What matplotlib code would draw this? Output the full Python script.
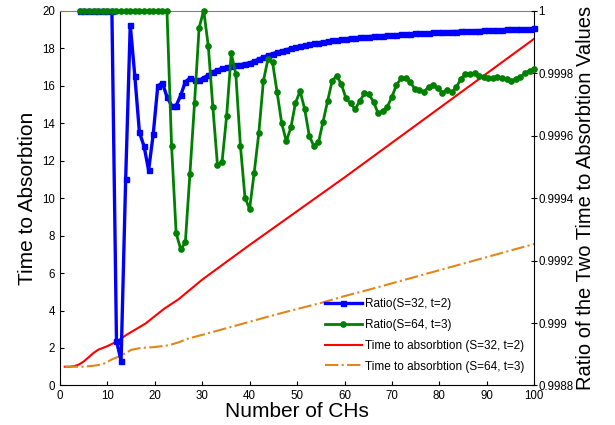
import numpy as np
import matplotlib
matplotlib.use('Agg')
import matplotlib.pyplot as plt

plt.rcParams['font.family'] = ['Liberation Sans', 'DejaVu Sans']

# number of CHs used for the two ratio curves
n_chs = np.arange(1, 101)

# ratio of the two time-to-absorption values (right axis)
ratio_s32 = [1.0, 1.0, 1.0, 1.0, 1.0, 1.0, 1.0, 1.0,
             0.998943, 0.998879, 0.999460, 0.999954, 0.999790, 0.999610, 0.999566, 0.999489,
             0.999604, 0.999759, 0.999769, 0.999724, 0.999696, 0.999696, 0.999729, 0.999772,
             0.999784, 0.999777, 0.999777, 0.999785, 0.999794, 0.999804, 0.999810, 0.999815,
             0.999819, 0.999822, 0.999825, 0.999827, 0.999830, 0.999833, 0.999838, 0.999845,
             0.999851, 0.999857, 0.999862, 0.999867, 0.999871, 0.999875, 0.999879, 0.999882,
             0.999886, 0.999890, 0.999892, 0.999895, 0.999897, 0.999900, 0.999902, 0.999905,
             0.999906, 0.999908, 0.999910, 0.999912, 0.999913, 0.999914, 0.999915, 0.999917,
             0.999918, 0.999919, 0.999920, 0.999921, 0.999923, 0.999923, 0.999924, 0.999925,
             0.999926, 0.999927, 0.999928, 0.999929, 0.999929, 0.999930, 0.999931, 0.999932,
             0.999932, 0.999933, 0.999933, 0.999934, 0.999935, 0.999935, 0.999936, 0.999936,
             0.999937, 0.999938, 0.999938, 0.999939, 0.999939, 0.999940, 0.999941, 0.999941,
             0.999942, 0.999942, 0.999942, 0.999943]

ratio_s64 = [1.0, 1.0, 1.0, 1.0, 1.0, 1.0, 1.0, 1.0, 1.0, 1.0,
             1.0, 1.0, 1.0, 1.0, 1.0, 1.0, 1.0, 1.0, 1.0, 1.0,
             0.999568, 0.999287, 0.999236, 0.999258, 0.999478, 0.999703, 0.999945, 1.0,
             0.999887, 0.999690, 0.999506, 0.999516, 0.999663, 0.999863, 0.999797, 0.999567,
             0.999401, 0.999365, 0.999481, 0.999607, 0.999774, 0.999845, 0.999834, 0.999738,
             0.999639, 0.999582, 0.999626, 0.999705, 0.999742, 0.999685, 0.999599, 0.999566,
             0.999578, 0.999644, 0.999711, 0.999776, 0.999791, 0.999764, 0.999719, 0.999703,
             0.999685, 0.999710, 0.999735, 0.999732, 0.999708, 0.999671, 0.999678, 0.999692,
             0.999724, 0.999762, 0.999783, 0.999785, 0.999772, 0.999748, 0.999746, 0.999740,
             0.999756, 0.999762, 0.999751, 0.999737, 0.999746, 0.999738, 0.999754, 0.999780,
             0.999796, 0.999797, 0.999799, 0.999791, 0.999788, 0.999783, 0.999785, 0.999786,
             0.999783, 0.999780, 0.999776, 0.999780, 0.999786, 0.999801, 0.999807, 0.999812]

# time to absorption (left axis)
abs_x32 = [1, 2, 3, 4, 5, 6, 7, 8, 9, 10, 12, 14, 16, 18, 20, 22, 25, 30,
           40, 50, 60, 70, 80, 90, 100]
abs_s32 = [1.0, 1.0, 1.03, 1.12, 1.28, 1.5, 1.72, 1.9, 2.0, 2.1, 2.35, 2.7, 3.0,
           3.3, 3.7, 4.1, 4.6, 5.65, 7.5, 9.3, 11.1, 12.95, 14.8, 16.65, 18.5]

abs_x64 = [1, 3, 5, 7, 9, 11, 13, 15, 17, 20, 23, 25, 27, 30, 35, 40, 45, 50,
           55, 60, 65, 70, 75, 80, 85, 90, 95, 100]
abs_s64 = [1.0, 1.0, 1.0, 1.05, 1.13, 1.4, 1.6, 1.9, 2.0, 2.05, 2.15, 2.3, 2.5,
           2.7, 3.05, 3.4, 3.75, 4.08, 4.4, 4.77, 5.1, 5.45, 5.8, 6.15, 6.5,
           6.85, 7.2, 7.55]

x_ticks = [0, 10, 20, 30, 40, 50, 60, 70, 80, 90, 100]
left_ticks = [0, 2, 4, 6, 8, 10, 12, 14, 16, 18, 20]
right_ticks = [0.9988, 0.999, 0.9992, 0.9994, 0.9996, 0.9998, 1.0]
right_labels = ['0.9988', '0.999', '0.9992', '0.9994', '0.9996', '0.9998', '1']

labels = ['Ratio(S=32, t=2)', 'Ratio(S=64, t=3)',
          'Time to absorbtion (S=32, t=2)', 'Time to absorbtion (S=64, t=3)']

fig = plt.figure(figsize=(6.15, 4.25), dpi=100)
rect = [0.0976, 0.093, 0.771, 0.882]
ax = fig.add_axes(rect)
ax2 = fig.add_axes(rect, frameon=False)  # own x scale, like the original plotyy

l3, = ax.plot(abs_x32, abs_s32, color='red', lw=1.5)
l4, = ax.plot(abs_x64, abs_s64, color='#E0861C', lw=1.5, ls='-.')

l1, = ax2.plot(n_chs, ratio_s32, color='blue', lw=2.4, marker='s', ms=3.6, clip_on=False)
l2, = ax2.plot(n_chs, ratio_s64, color='green', lw=2, marker='o', ms=3.8, clip_on=False)

ax.set_xlim(0, 100)
ax.set_ylim(0, 20)
ax.set_xticks(x_ticks)
ax.set_yticks(left_ticks)
ax.tick_params(direction='in', length=3, labelsize=8.3, top=False, right=False)
ax.spines['top'].set_color('#808080')
ax.set_xlabel('Number of CHs', fontsize=15, labelpad=0)
ax.set_ylabel('Time to Absorbtion', fontsize=15, labelpad=4)

ax2.set_xlim(-3.3, 100)
ax2.set_ylim(0.9988, 1.0)
ax2.xaxis.set_visible(False)
ax2.yaxis.tick_right()
ax2.yaxis.set_label_position('right')
ax2.set_yticks(right_ticks)
ax2.set_yticklabels(right_labels)
ax2.tick_params(axis='y', direction='inout', length=4, labelsize=8.3, pad=1)
ax2.set_ylabel('Ratio of the Two Time to Absorbtion Values', fontsize=14.5, labelpad=2)

ax2.legend([l1, l2, l3, l4], labels, loc='upper left', bbox_to_anchor=(0.559, 0.2335),
           frameon=False, fontsize=8.5, handlelength=3.1, handletextpad=0.3,
           labelspacing=0.75, borderpad=0, borderaxespad=0)

fig.savefig('out.png', dpi=100)
